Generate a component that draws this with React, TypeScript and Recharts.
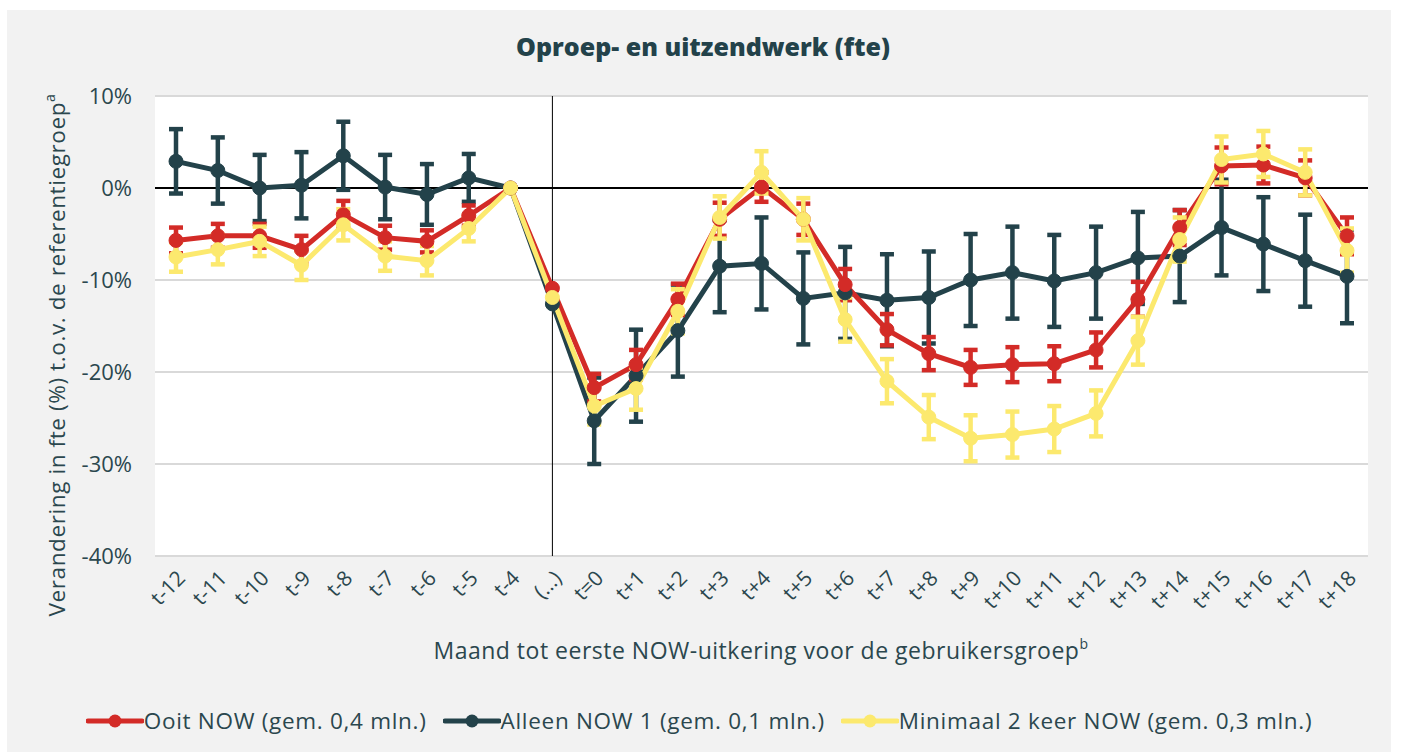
import React from "react";
import {
  LineChart,
  Line,
  XAxis,
  YAxis,
  CartesianGrid,
  ReferenceLine,
  ErrorBar,
  Label,
} from "recharts";

const categories = [
  "t-12", "t-11", "t-10", "t-9", "t-8", "t-7", "t-6", "t-5", "t-4", "(…)",
  "t=0", "t+1", "t+2", "t+3", "t+4", "t+5", "t+6", "t+7", "t+8", "t+9",
  "t+10", "t+11", "t+12", "t+13", "t+14", "t+15", "t+16", "t+17", "t+18",
];

const ooit = [
  -5.7, -5.2, -5.2, -6.7, -2.9, -5.4, -5.8, -3.0, 0, -10.9,
  -21.7, -19.2, -12.1, -3.4, 0.1, -3.4, -10.5, -15.4, -18.0, -19.5,
  -19.2, -19.1, -17.6, -12.1, -4.3, 2.4, 2.5, 1.1, -5.2,
];
const ooitErr = [
  1.4, 1.3, 1.3, 1.5, 1.5, 1.3, 1.2, 1.1, null, null,
  1.5, 1.6, 1.7, 1.8, 1.6, 1.7, 1.7, 1.7, 1.8, 1.9,
  1.9, 1.9, 1.9, 1.9, 1.9, 2.0, 2.0, 1.9, 2.0,
];

const alleen = [
  2.9, 1.9, 0.0, 0.3, 3.5, 0.1, -0.7, 1.1, 0, -12.6,
  -25.3, -20.4, -15.5, -8.5, -8.2, -12.0, -11.4, -12.2, -11.9, -10.0,
  -9.2, -10.1, -9.2, -7.6, -7.4, -4.3, -6.1, -7.9, -9.6,
];
const alleenErr = [
  3.5, 3.6, 3.6, 3.6, 3.7, 3.5, 3.3, 2.6, null, null,
  4.7, 5.0, 5.0, 5.0, 5.0, 5.0, 5.0, 5.0, 5.0, 5.0,
  5.0, 5.0, 5.0, 5.0, 5.0, 5.2, 5.1, 5.0, 5.1,
];

const minimaal = [
  -7.5, -6.7, -5.8, -8.4, -4.0, -7.4, -7.9, -4.4, 0, -11.9,
  -23.7, -21.8, -13.4, -3.2, 1.7, -3.4, -14.3, -21.0, -24.9, -27.2,
  -26.8, -26.2, -24.5, -16.6, -5.6, 3.1, 3.7, 1.7, -6.8,
];
const minimaalErr = [
  1.6, 1.6, 1.6, 1.6, 1.7, 1.6, 1.6, 1.4, null, null,
  2.0, 2.3, 2.4, 2.3, 2.3, 2.3, 2.4, 2.4, 2.4, 2.5,
  2.5, 2.5, 2.5, 2.6, 2.4, 2.5, 2.5, 2.5, 2.4,
];

const yTicks = [-40, -30, -20, -10, 0, 10];

const RED = "#d32b27";
const DARK = "#23424a";
const YELLOW = "#fce96e";
const TEXT = "#2b474e";
const FONT = "'Open Sans', Lato, sans-serif";

const series = [
  { key: "ooit", err: "ooitErr", name: "Ooit NOW (gem. 0,4 mln.)", color: RED },
  { key: "alleen", err: "alleenErr", name: "Alleen NOW 1 (gem. 0,1 mln.)", color: DARK },
  { key: "minimaal", err: "minimaalErr", name: "Minimaal 2 keer NOW (gem. 0,3 mln.)", color: YELLOW },
];

const data = categories.map((c, i) => ({
  cat: c,
  ooit: ooit[i],
  ooitErr: ooitErr[i],
  alleen: alleen[i],
  alleenErr: alleenErr[i],
  minimaal: minimaal[i],
  minimaalErr: minimaalErr[i],
}));

// drawing order: dark, red, yellow on top
const drawOrder = ["alleen", "ooit", "minimaal"];

function LegendRow() {
  return (
    <div
      style={{
        position: "absolute",
        left: 0,
        top: 695,
        width: 1384,
        display: "flex",
        justifyContent: "center",
        alignItems: "center",
        fontFamily: FONT,
        fontSize: 22.5,
        letterSpacing: 0.7,
        color: TEXT,
        paddingLeft: 16,
        boxSizing: "border-box",
      }}
    >
      {series.map((s) => (
        <div key={s.key} style={{ display: "flex", alignItems: "center", marginRight: 16 }}>
          <svg width={58} height={20}>
            <line x1={2} y1={10} x2={56} y2={10} stroke={s.color} strokeWidth={5} strokeLinecap="round" />
            <circle cx={29} cy={10} r={6.5} fill={s.color} />
          </svg>
          <span>{s.name}</span>
        </div>
      ))}
    </div>
  );
}

export default function App() {
  return (
    <div style={{ position: "absolute", left: 0, top: 0, width: 1403, height: 753, background: "#fff" }}>
      <div style={{ position: "absolute", left: 7, top: 10, width: 1384, height: 742, background: "#f2f2f2" }}>
        <div
          style={{
            position: "absolute",
            left: 4,
            width: 1384,
            top: 19,
            textAlign: "center",
            fontFamily: FONT,
            fontWeight: 800,
            fontSize: 25,
            color: DARK,
          }}
        >
          Oproep- en uitzendwerk (fte)
        </div>
        <LineChart
          width={1384}
          height={742}
          data={data}
          margin={{ top: 86, right: 23, left: 68, bottom: 136 }}
          style={{ fontFamily: FONT }}
        >
          <CartesianGrid vertical={false} stroke="#d9d9d9" strokeWidth={2} fill="#fff" />
          <XAxis
            dataKey="cat"
            interval={0}
            height={60}
            padding={{ left: 21, right: 21 }}
            axisLine={false}
            tickLine={false}
            angle={-45}
            textAnchor="end"
            tickMargin={7}
            tick={{ fill: TEXT, fontSize: 21 }}
          >
            <Label
              content={() => (
                <text
                  x={754}
                  y={649}
                  textAnchor="middle"
                  fill={TEXT}
                  fontSize={23}
                  letterSpacing={0.5}
                  fontFamily={FONT}
                >
                  Maand tot eerste NOW-uitkering voor de gebruikersgroep
                  <tspan fontSize={14} dy={-10}>b</tspan>
                </text>
              )}
            />
          </XAxis>
          <YAxis
            domain={[-40, 10]}
            ticks={yTicks}
            width={80}
            axisLine={false}
            tickLine={false}
            tickMargin={17}
            tickFormatter={(v: number) => `${v}%`}
            tick={{ fill: TEXT, fontSize: 22 }}
          >
            <Label
              content={() => (
                <text
                  x={0}
                  y={0}
                  transform="translate(58 345) rotate(-90)"
                  textAnchor="middle"
                  fill={TEXT}
                  fontSize={22.5}
                  letterSpacing={0.6}
                  fontFamily={FONT}
                >
                  Verandering in fte (%) t.o.v. de referentiegroep
                  <tspan fontSize={14} dy={-10}>a</tspan>
                </text>
              )}
            />
          </YAxis>
          <ReferenceLine y={0} stroke="#000" strokeWidth={2} />
          <ReferenceLine x="(…)" stroke="#000" strokeWidth={1} />
          {drawOrder.map((k) => {
            const s = series.find((x) => x.key === k)!;
            return (
              <Line
                key={s.key}
                type="linear"
                dataKey={s.key}
                name={s.name}
                stroke={s.color}
                strokeWidth={5}
                dot={{ r: 7, fill: s.color, stroke: s.color, strokeWidth: 1 }}
                activeDot={false}
                isAnimationActive={false}
              >
                <ErrorBar dataKey={s.err} width={7} stroke={s.color} strokeWidth={4.5} direction="y" />
              </Line>
            );
          })}
        </LineChart>
        <LegendRow />
      </div>
    </div>
  );
}
